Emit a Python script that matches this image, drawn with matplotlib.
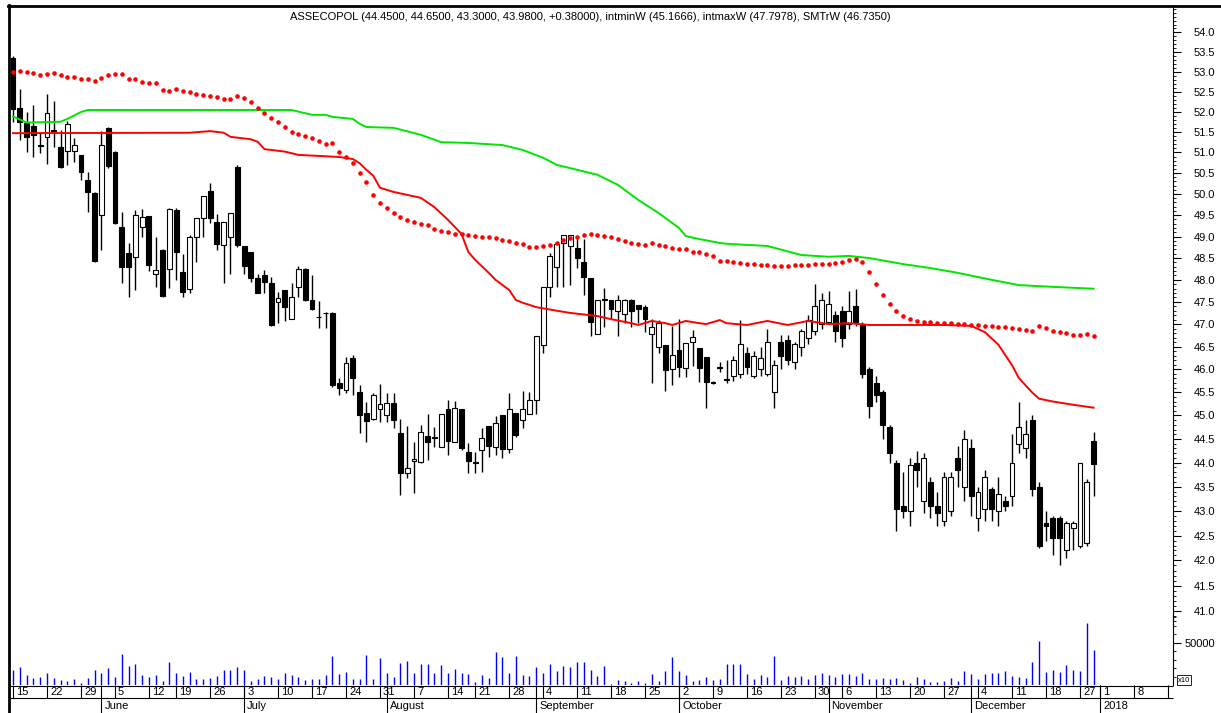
import numpy as np
import pandas as pd
import matplotlib
matplotlib.use('Agg')
import matplotlib.pyplot as plt
from matplotlib.lines import Line2D
from matplotlib.ticker import FixedLocator, FixedFormatter, NullFormatter

plt.rcParams['font.family'] = ['Liberation Sans', 'DejaVu Sans']

# trading days (Warsaw exchange holidays removed)
holidays = ['2017-06-15', '2017-08-15', '2017-11-01', '2017-12-25', '2017-12-26']
days = pd.bdate_range('2017-05-15', '2017-12-29')
days = days[~days.isin(pd.to_datetime(holidays))]
axis_days = days.append(pd.bdate_range('2018-01-01', '2018-01-19'))

title = ('ASSECOPOL (44.4500, 44.6500, 43.3000, 43.9800, +0.38000), '
         'intminW (45.1666), intmaxW (47.7978), SMTrW (46.7350)')

opens = [53.35, 52.10, 51.72, 51.65, 51.17, 51.38, 51.55, 51.13, 51.03, 51.03,
         50.94, 50.34, 50.02, 49.50, 51.60, 51.01, 49.22, 48.62, 48.53, 49.22,
         49.48, 48.13, 48.69, 48.25, 49.62, 48.18, 47.79, 48.99, 49.43, 50.07,
         49.34, 48.80, 49.00, 50.65, 48.78, 48.64, 48.04, 48.11, 47.93, 47.50,
         47.77, 47.11, 47.84, 48.25, 47.54, 47.16, 47.25, 47.25, 45.70, 45.55,
         46.24, 45.51, 45.05, 44.92, 45.14, 45.01, 45.27, 44.63, 43.78, 44.03,
         44.01, 44.57, 44.52, 44.33, 45.14, 44.44, 45.14, 44.22, 44.01, 44.27,
         44.78, 44.33, 45.01, 44.29, 45.05, 44.90, 45.03, 45.33, 46.53, 47.84,
         48.29, 48.85, 48.78, 48.73, 48.41, 48.04, 46.78, 47.56, 47.54, 47.30,
         47.23, 47.54, 47.43, 47.38, 46.78, 46.49, 46.54, 46.00, 46.42, 46.03,
         46.60, 46.47, 46.27, 45.72, 46.04, 45.78, 45.85, 45.90, 46.35, 45.85,
         46.00, 45.90, 45.50, 46.60, 46.65, 46.15, 46.50, 46.70, 46.85, 47.00,
         47.05, 47.20, 47.30, 47.00, 47.40, 47.00, 46.00, 45.70, 45.50, 44.75,
         44.00, 43.10, 43.00, 44.00, 43.20, 43.60, 43.10, 42.80, 43.00, 44.10,
         43.50, 44.30, 42.85, 43.05, 43.45, 43.00, 43.20, 43.30, 44.40, 44.30,
         44.90, 43.50, 42.75, 42.85, 42.85, 42.20, 42.65, 42.30, 42.35, 44.45]
highs = [53.40, 52.57, 51.99, 52.16, 51.50, 52.44, 52.26, 51.55, 51.77, 51.35,
         50.94, 50.53, 50.05, 51.52, 51.62, 51.03, 49.58, 48.85, 49.62, 49.64,
         49.49, 48.99, 48.70, 49.66, 49.66, 48.59, 49.03, 49.43, 49.96, 50.27,
         49.52, 49.35, 49.56, 50.70, 48.78, 48.64, 48.13, 48.22, 48.06, 47.72,
         47.77, 47.93, 48.31, 48.27, 48.11, 47.52, 47.27, 47.27, 45.81, 46.26,
         46.31, 45.66, 45.29, 45.48, 45.68, 45.48, 45.48, 44.92, 44.78, 44.44,
         44.80, 45.03, 44.75, 45.03, 45.33, 45.31, 45.14, 44.42, 44.22, 44.73,
         44.78, 44.99, 45.01, 45.48, 45.05, 45.52, 45.50, 46.73, 47.84, 48.62,
         48.85, 49.03, 49.03, 48.94, 48.94, 48.04, 47.54, 47.81, 47.54, 47.66,
         47.56, 47.56, 47.43, 47.43, 47.11, 47.09, 46.54, 46.96, 47.11, 46.58,
         46.87, 46.47, 46.27, 45.75, 46.16, 46.20, 46.30, 47.10, 46.50, 46.40,
         46.50, 46.90, 46.20, 46.75, 46.75, 46.60, 46.90, 47.20, 47.90, 47.70,
         47.75, 47.30, 47.40, 47.75, 47.80, 47.05, 46.05, 45.85, 45.55, 44.80,
         44.05, 43.80, 44.10, 44.25, 44.20, 43.70, 43.40, 43.80, 43.80, 44.35,
         44.70, 44.50, 43.50, 43.85, 43.50, 43.70, 43.30, 44.60, 45.30, 44.90,
         45.00, 43.60, 43.00, 42.90, 42.90, 42.80, 42.80, 44.00, 43.65, 44.65]
lows = [51.75, 51.30, 51.01, 50.89, 50.99, 50.72, 51.13, 50.63, 50.70, 50.77,
        50.34, 49.58, 48.42, 48.69, 50.63, 49.30, 47.93, 47.61, 47.77, 48.99,
        48.20, 47.84, 47.62, 47.81, 48.00, 47.61, 47.70, 48.41, 48.99, 49.32,
        48.69, 47.93, 48.13, 48.76, 48.13, 47.95, 47.70, 47.70, 46.96, 47.02,
        47.07, 47.11, 47.61, 47.53, 47.32, 46.91, 46.91, 45.62, 45.44, 45.49,
        45.44, 44.63, 44.44, 44.90, 44.86, 44.86, 44.73, 43.33, 43.68, 43.38,
        43.99, 44.05, 44.33, 44.33, 44.16, 44.44, 44.27, 43.78, 43.78, 43.80,
        44.12, 44.16, 44.10, 44.20, 44.54, 44.73, 45.03, 45.03, 46.35, 47.61,
        47.84, 47.84, 47.88, 48.27, 47.66, 46.73, 46.78, 46.93, 47.13, 46.73,
        47.02, 46.93, 47.02, 46.82, 45.70, 46.35, 45.53, 45.66, 45.83, 45.83,
        46.07, 45.72, 45.16, 45.68, 45.94, 45.70, 45.75, 45.80, 45.90, 45.80,
        45.85, 45.85, 45.15, 46.00, 46.10, 46.00, 46.30, 46.55, 46.75, 46.90,
        47.00, 46.60, 46.50, 46.90, 46.95, 45.80, 44.95, 45.30, 44.50, 44.00,
        42.60, 42.85, 42.70, 43.50, 42.95, 42.85, 42.70, 42.70, 42.90, 43.50,
        43.20, 42.90, 42.60, 42.80, 42.80, 42.70, 43.00, 43.10, 44.20, 44.10,
        43.30, 42.25, 42.40, 42.10, 41.90, 42.05, 42.20, 42.25, 42.30, 43.30]
closes = [52.07, 51.75, 51.38, 51.43, 51.15, 51.97, 51.52, 50.65, 51.70, 51.18,
          50.53, 50.05, 48.43, 51.18, 50.67, 49.32, 48.30, 48.30, 49.50, 49.46,
          48.34, 48.22, 47.63, 49.64, 48.64, 47.72, 49.00, 49.43, 49.95, 49.43,
          48.83, 49.34, 49.55, 48.80, 48.32, 48.04, 47.70, 47.95, 46.98, 47.59,
          47.38, 47.61, 48.25, 47.54, 47.34, 47.15, 47.24, 45.66, 45.60, 46.13,
          45.81, 45.01, 44.88, 45.44, 45.24, 45.27, 44.90, 43.78, 43.89, 44.07,
          44.65, 44.44, 44.54, 45.03, 44.46, 45.16, 44.31, 44.03, 44.00, 44.52,
          44.35, 44.84, 44.29, 45.14, 44.58, 45.14, 45.33, 46.73, 47.84, 48.55,
          48.82, 49.03, 49.03, 48.50, 48.06, 47.04, 47.54, 47.55, 47.34, 47.54,
          47.54, 47.30, 47.34, 47.11, 46.93, 47.02, 45.98, 46.31, 46.04, 46.58,
          46.71, 46.03, 45.72, 45.71, 46.03, 45.77, 46.20, 46.55, 46.05, 46.30,
          46.25, 46.60, 46.10, 46.30, 46.20, 46.55, 46.85, 47.10, 47.40, 47.55,
          47.45, 46.85, 46.70, 47.30, 47.05, 45.90, 45.20, 45.45, 44.80, 44.20,
          43.05, 43.00, 43.95, 43.85, 44.10, 43.10, 42.95, 43.70, 43.70, 43.85,
          44.50, 43.30, 43.40, 43.70, 43.05, 43.35, 43.10, 44.00, 44.75, 44.60,
          43.45, 42.30, 42.70, 42.45, 42.45, 42.75, 42.75, 44.00, 43.60, 43.98]

volume = [17900, 20700, 11400, 8200, 10000, 14600, 8200, 6400, 4300, 6800,
          2500, 8200, 17900, 13900, 20000, 9600, 37100, 22100, 25300, 11400,
          9600, 11800, 5000, 26800, 14600, 10400, 15000, 6800, 6800, 8200,
          10400, 17500, 18200, 21100, 17900, 5000, 7500, 10400, 9600, 7100,
          13900, 11800, 10000, 5700, 6800, 7500, 11400, 34300, 12900, 15700,
          7100, 7100, 35000, 6800, 31400, 14600, 9300, 26400, 28200, 13900,
          24300, 24300, 13900, 23600, 13900, 18900, 13900, 12900, 3900, 11800,
          8200, 38600, 32500, 13900, 34300, 11800, 10400, 21100, 14600, 25300,
          16400, 22500, 21100, 26800, 26800, 17900, 10400, 22100, 1500, 6100,
          5000, 2100, 4300, 2500, 12900, 5000, 16400, 32800, 16400, 11800,
          5000, 6100, 10000, 5400, 7500, 24300, 24300, 24300, 12900, 7500,
          11400, 9300, 33900, 5700, 10400, 9600, 10400, 7100, 11400, 13900,
          11800, 9300, 12900, 12900, 10400, 13900, 7100, 7500, 8600, 6800,
          8200, 5700, 2900, 9300, 7100, 3900, 3900, 5000, 8200, 5000,
          16100, 12500, 6800, 12500, 13900, 13900, 16400, 11100, 10000, 8200,
          26800, 51800, 15700, 18200, 15700, 23600, 17900, 16400, 73000, 41100]

# SMTrW, one dot per session
smtr = [53.00, 53.01, 52.98, 52.97, 52.92, 52.94, 52.96, 52.92, 52.87, 52.87,
        52.82, 52.81, 52.77, 52.85, 52.92, 52.93, 52.93, 52.82, 52.81, 52.74,
        52.72, 52.71, 52.54, 52.52, 52.56, 52.52, 52.48, 52.44, 52.41, 52.38,
        52.36, 52.32, 52.32, 52.38, 52.34, 52.23, 52.10, 51.96, 51.84, 51.74,
        51.61, 51.51, 51.45, 51.41, 51.34, 51.29, 51.21, 51.23, 51.02, 50.90,
        50.75, 50.50, 50.28, 49.98, 49.79, 49.67, 49.55, 49.46, 49.39, 49.34,
        49.29, 49.27, 49.17, 49.13, 49.10, 49.06, 49.05, 49.03, 49.02, 48.99,
        48.98, 48.96, 48.92, 48.89, 48.86, 48.83, 48.75, 48.75, 48.77, 48.80,
        48.84, 48.93, 48.96, 48.99, 49.03, 49.07, 49.03, 49.02, 48.98, 48.94,
        48.89, 48.86, 48.82, 48.80, 48.86, 48.80, 48.78, 48.74, 48.72, 48.70,
        48.65, 48.63, 48.59, 48.55, 48.44, 48.43, 48.41, 48.39, 48.36, 48.36,
        48.34, 48.34, 48.32, 48.32, 48.32, 48.34, 48.34, 48.34, 48.36, 48.36,
        48.36, 48.39, 48.41, 48.45, 48.48, 48.41, 48.18, 47.90, 47.66, 47.45,
        47.29, 47.18, 47.11, 47.07, 47.05, 47.05, 47.02, 47.02, 47.02, 47.00,
        47.00, 46.98, 46.98, 46.96, 46.96, 46.93, 46.93, 46.91, 46.89, 46.87,
        46.85, 46.96, 46.91, 46.85, 46.82, 46.80, 46.76, 46.76, 46.78, 46.735]

# intmaxW / intminW vertices (session index, value)
intmax_idx = [0, 2, 7, 8, 10, 11, 41, 44, 46, 47, 50, 51, 52, 56, 60, 63, 67, 72,
              75, 78, 80, 83, 86, 89, 92, 95, 98, 99, 101, 104, 105, 111, 116, 120,
              123, 126, 131, 135, 139, 144, 148, 153, 159]
intmax_val = [51.88, 51.73, 51.75, 51.82, 51.99, 52.04, 52.04, 51.92, 51.92, 51.87,
              51.82, 51.70, 51.62, 51.60, 51.43, 51.25, 51.23, 51.18, 51.06, 50.87,
              50.70, 50.58, 50.46, 50.22, 49.86, 49.55, 49.20, 49.01, 48.94, 48.85,
              48.83, 48.78, 48.57, 48.53, 48.55, 48.50, 48.36, 48.27, 48.16, 48.00,
              47.88, 47.84, 47.7978]
intmin_idx = [0, 26, 29, 31, 32, 35, 36, 37, 40, 42, 48, 50, 51, 52, 53, 54, 56,
              60, 62, 64, 66, 67, 68, 70, 71, 73, 74, 75, 77, 80, 82, 86, 88, 91,
              92, 94, 96, 97, 99, 101, 102, 104, 105, 108, 111, 114, 117, 120, 123,
              126, 131, 137, 141, 143, 145, 147, 148, 150, 151, 153, 156, 159]
intmin_val = [51.47, 51.48, 51.52, 51.48, 51.38, 51.32, 51.26, 51.08, 51.02, 50.94,
              50.89, 50.84, 50.74, 50.58, 50.44, 50.15, 50.05, 49.91, 49.69, 49.39,
              49.06, 48.64, 48.46, 48.16, 48.00, 47.77, 47.54, 47.48, 47.38, 47.30,
              47.25, 47.18, 47.11, 47.02, 46.98, 47.07, 47.02, 46.98, 47.07, 47.02,
              47.00, 47.09, 47.02, 46.98, 47.07, 46.98, 47.07, 47.00, 47.02, 46.98,
              46.98, 46.98, 46.96, 46.82, 46.54, 46.09, 45.81, 45.49, 45.36, 45.30,
              45.23, 45.1666]

W, H = 1221, 713
X0, X1 = 9, 1173


def box(top, bottom):
    return [X0 / W, 1 - bottom / H, (X1 - X0) / W, (bottom - top) / H]


fig = plt.figure(figsize=(W / 100, H / 100), dpi=100)
ax = fig.add_axes(box(6, 625))
vax = fig.add_axes(box(615, 685), sharex=ax)
dax = fig.add_axes(box(685, 713), sharex=ax)
vax.patch.set_visible(False)
ax.patch.set_visible(False)

x = np.arange(len(opens))
o, h, l, c = (np.array(v) for v in (opens, highs, lows, closes))
up = c >= o

# candles
ax.vlines(x, l, h, color='black', lw=1.0, zorder=2)
ax.bar(x, np.maximum(np.abs(c - o), 0.004), bottom=np.minimum(o, c), width=0.72,
       color=np.where(up, 'white', 'black'), edgecolor='black', lw=0.8, zorder=3)

# indicators
ax.plot(intmax_idx, intmax_val, color='#00e600', lw=1.4, zorder=4)
ax.plot(intmin_idx, intmin_val, color='#ff0000', lw=1.4, zorder=4)
ax.plot(x, smtr, ls='none', marker='o', ms=3.3, color='#ff0000', mec='none', zorder=5)

ax.set_yscale('log')
ax.set_ylim(40.73, 54.68)
ax.set_xlim(-0.59, 170.69)
major = np.arange(41, 54.01, 0.5)
ax.yaxis.set_major_locator(FixedLocator(major))
ax.yaxis.set_major_formatter(FixedFormatter(['%.1f' % v for v in major]))
ax.yaxis.set_minor_locator(FixedLocator(np.arange(40.8, 54.65, 0.1)))
ax.yaxis.set_minor_formatter(NullFormatter())
ax.yaxis.tick_right()
ax.tick_params(axis='y', which='major', length=6, width=0.8, pad=9, labelsize=8)
ax.tick_params(axis='y', which='minor', length=2.5, width=0.6)
ax.tick_params(axis='x', which='both', bottom=False, labelbottom=False)
for s in ['top', 'left', 'bottom']:
    ax.spines[s].set_visible(False)
ax.spines['right'].set_linewidth(0.8)

# volume
vax.vlines(x, 0, volume, color='#0000ff', lw=1.0)
vax.set_ylim(0, 82700)
vax.yaxis.tick_right()
vax.yaxis.set_major_locator(FixedLocator([50000]))
vax.yaxis.set_minor_locator(FixedLocator(np.arange(10000, 80001, 10000)))
vax.yaxis.set_minor_formatter(NullFormatter())
vax.tick_params(axis='y', which='major', length=6, width=0.8, pad=2, labelsize=8)
vax.tick_params(axis='y', which='minor', length=2.5, width=0.6)
vax.tick_params(axis='x', which='both', bottom=False, labelbottom=False)
for s in ['top', 'left', 'bottom']:
    vax.spines[s].set_visible(False)
vax.spines['right'].set_linewidth(0.8)

# date strip
dax.axis('off')
dax.set_ylim(28, 0)
xl = ax.get_xlim()
dax.hlines([0.5, 13], xl[0], xl[1], color='black', lw=0.8, clip_on=False)
pos = pd.Series(np.arange(len(axis_days)), index=axis_days)
iso = axis_days.isocalendar()
week_first = pos.groupby([iso.year.values, iso.week.values]).min()
for i in week_first.values:
    dax.vlines(i, 0, 13, color='black', lw=0.8)
    if i < len(axis_days) - 5:
        dax.text(i + 0.45, 7, str(axis_days[i].day), fontsize=8, va='center', ha='left')
month_first = pos.groupby([axis_days.year, axis_days.month]).min()
for i in month_first.values:
    d = axis_days[i]
    if d.day > 7:
        continue
    dax.vlines(i, 0, 28, color='black', lw=0.8)
    name = str(d.year) if d.month == 1 else d.strftime('%B')
    dax.text(i + 0.45, 21, name, fontsize=8, va='center', ha='left')

# outer frame and labels
fig.add_artist(Line2D([9 / W, 9 / W], [0, 1 - 5 / H], color='black', lw=2))
fig.add_artist(Line2D([8 / W, 1], [1 - 6 / H, 1 - 6 / H], color='black', lw=2))
fig.text(590 / W, 1 - 17 / H, title, ha='center', va='center', fontsize=8)
fig.text(1184 / W, 1 - 680 / H, 'x10', ha='center', va='center', fontsize=5.5,
         bbox=dict(boxstyle='square,pad=0.15', fc='white', ec='black', lw=0.6))

fig.savefig('out.png', dpi=100)
